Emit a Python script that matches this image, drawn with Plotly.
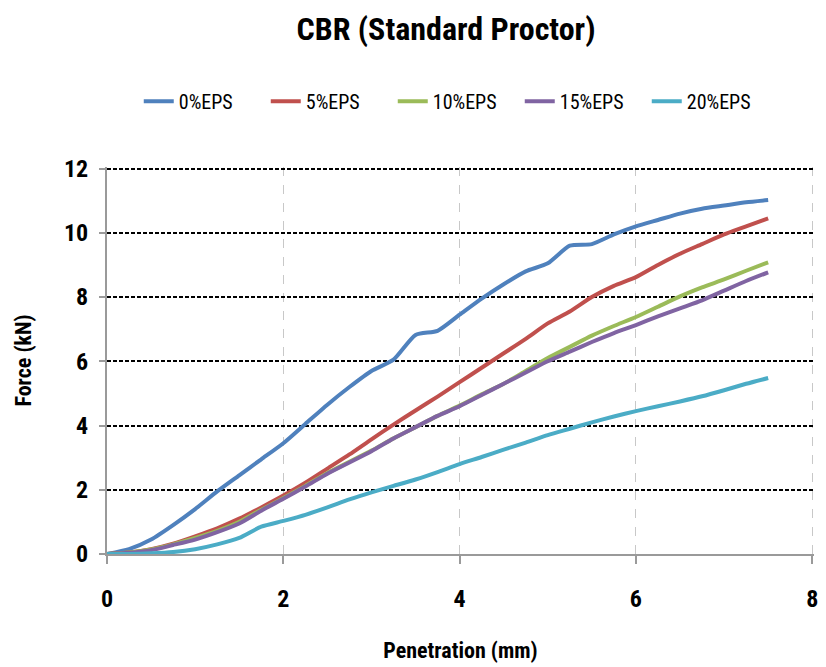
import plotly.graph_objects as go

# Penetration readings (mm)
penetration = [0, 0.25, 0.5, 0.75, 1.0, 1.25, 1.5, 1.75, 2.0, 2.25, 2.5, 2.75, 3.0, 3.25, 3.5, 3.75,
               4.0, 4.25, 4.5, 4.75, 5.0, 5.25, 5.5, 5.75, 6.0, 6.25, 6.5, 6.75, 7.0, 7.25, 7.5]

# Force (kN) for each EPS content
eps0 = [0, 0.15, 0.45, 0.9, 1.4, 1.95, 2.45, 2.95, 3.45, 4.05, 4.65, 5.2, 5.7, 6.05, 6.82, 6.95,
        7.45, 7.95, 8.4, 8.8, 9.05, 9.6, 9.65, 9.95, 10.2, 10.4, 10.6, 10.75, 10.85, 10.95, 11.02]
eps5 = [0, 0.05, 0.15, 0.32, 0.55, 0.8, 1.1, 1.45, 1.82, 2.22, 2.66, 3.1, 3.57, 4.03, 4.47, 4.9,
        5.35, 5.8, 6.25, 6.7, 7.18, 7.55, 8.0, 8.35, 8.62, 9.0, 9.35, 9.65, 9.95, 10.2, 10.45]
eps10 = [0, 0.05, 0.14, 0.3, 0.5, 0.72, 1.0, 1.38, 1.74, 2.12, 2.52, 2.87, 3.22, 3.6, 3.95, 4.3,
         4.62, 4.97, 5.3, 5.7, 6.1, 6.45, 6.8, 7.1, 7.38, 7.7, 8.02, 8.3, 8.55, 8.82, 9.08]
eps15 = [0, 0.04, 0.12, 0.28, 0.45, 0.68, 0.95, 1.35, 1.72, 2.1, 2.5, 2.85, 3.2, 3.6, 3.95, 4.3,
         4.6, 4.95, 5.3, 5.65, 6.0, 6.3, 6.6, 6.88, 7.13, 7.4, 7.65, 7.9, 8.2, 8.5, 8.77]
eps20 = [0, 0.0, 0.02, 0.06, 0.15, 0.3, 0.5, 0.85, 1.03, 1.22, 1.45, 1.7, 1.92, 2.12, 2.32, 2.55,
         2.8, 3.02, 3.25, 3.47, 3.7, 3.9, 4.1, 4.28, 4.45, 4.6, 4.75, 4.91, 5.1, 5.3, 5.48]

series_names = ["0%EPS", "5%EPS", "10%EPS", "15%EPS", "20%EPS"]
series_values = [eps0, eps5, eps10, eps15, eps20]
series_colors = ["#4F81BD", "#C0504D", "#9BBB59", "#8064A2", "#4BACC6"]

x_ticks = [0, 2, 4, 6, 8]
y_ticks = [0, 2, 4, 6, 8, 10, 12]

FONT = "Liberation Sans Narrow, Roboto Condensed, Arial Narrow, Liberation Sans, sans-serif"

fig = go.Figure()
for name, vals, col in zip(series_names, series_values, series_colors):
    fig.add_trace(go.Scatter(
        x=penetration, y=vals, name=name, mode="lines",
        line=dict(color=col, width=4, shape="spline", smoothing=0.6),
    ))

fig.update_layout(
    width=826, height=667,
    paper_bgcolor="white", plot_bgcolor="white",
    margin=dict(l=107, r=8, t=167, b=112),
    title=dict(text="<b>CBR (Standard Proctor)</b>", x=0.54, xanchor="center",
               y=0.957, yanchor="middle",
               font=dict(family=FONT, size=32, color="black")),
    font=dict(family=FONT, color="black"),
    legend=dict(orientation="h", x=0.494, xanchor="center", y=1.17, yanchor="middle",
                font=dict(family=FONT, size=20, color="black"),
                entrywidth=82, entrywidthmode="pixels",
                itemwidth=30, tracegroupgap=0),
    showlegend=True,
)

fig.update_xaxes(
    range=[0, 8.02], tickvals=x_ticks, ticktext=[str(v) for v in x_ticks],
    showgrid=True, gridcolor="#C8C8C8", griddash="dash", gridwidth=1,
    showline=True, linecolor="#9A9A9A", linewidth=2,
    ticks="outside", ticklen=8, tickcolor="#9A9A9A", tickwidth=2,
    ticklabelstandoff=14,
    tickfont=dict(family=FONT, size=24, color="black", weight="bold"),
    title=dict(text="<b>Penetration (mm)</b>", standoff=31,
               font=dict(family=FONT, size=22, color="black")),
    zeroline=False,
)
fig.update_yaxes(
    range=[0, 12.05], tickvals=y_ticks, ticktext=[str(v) for v in y_ticks],
    showgrid=True, gridcolor="black", griddash="4px,2px", gridwidth=1.5,
    showline=True, linecolor="#9A9A9A", linewidth=2,
    ticks="outside", ticklen=6, tickcolor="#9A9A9A", tickwidth=2,
    ticklabelstandoff=6,
    tickfont=dict(family=FONT, size=24, color="black", weight="bold"),
    title=dict(text="<b>Force (kN)</b>", standoff=26,
               font=dict(family=FONT, size=22, color="black")),
    zeroline=False,
)

fig.write_html("out.html")
